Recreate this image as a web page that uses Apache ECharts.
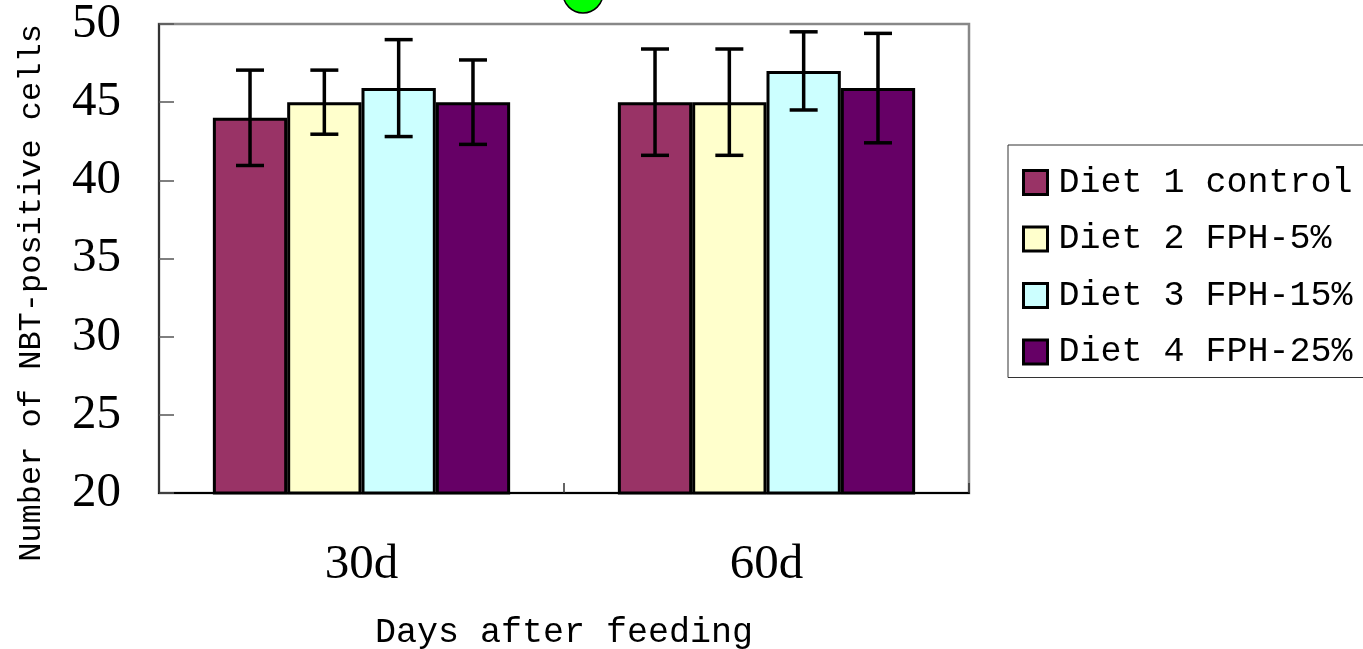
<!DOCTYPE html>
<html>
<head>
<meta charset="utf-8">
<script src="https://cdn.jsdelivr.net/npm/echarts@6/dist/echarts.min.js"></script>
<style>
html,body{margin:0;padding:0;background:#fff;}
#chart{width:1363px;height:649px;}
</style>
</head>
<body>
<div id="chart"></div>
<script>
const categories = ['30d', '60d'];
const seriesNames = ['Diet 1 control', 'Diet 2 FPH-5%', 'Diet 3 FPH-15%', 'Diet 4 FPH-25%'];
const diet1 = [44, 45];
const diet2 = [45, 45];
const diet3 = [45.9, 47];
const diet4 = [45, 45.9];
const err1 = [3.05, 3.4];
const err2 = [2.05, 3.4];
const err3 = [3.1, 2.5];
const err4 = [2.7, 3.5];
const yTicks = [20, 25, 30, 35, 40, 45, 50];

const values = [diet1, diet2, diet3, diet4];
const errors = [err1, err2, err3, err4];
const colors = ['#993366', '#FFFFCC', '#CCFFFF', '#660066'];
const GAP = 0.266;

const chart = echarts.init(document.getElementById('chart'));

const barSeries = values.map((vals, i) => ({
  name: seriesNames[i],
  type: 'bar',
  data: vals,
  barGap: '0%',
  barCategoryGap: (GAP * 100) + '%',
  itemStyle: { color: colors[i], borderColor: '#000', borderWidth: 3 },
  emphasis: { disabled: true },
  z: 2
}));

const errSeries = values.map((vals, i) => ({
  name: 'err' + i,
  type: 'custom',
  z: 5,
  silent: true,
  encode: { x: 0, y: 1 },
  data: vals.map((v, k) => [k, v, errors[i][k]]),
  renderItem: function (params, api) {
    const k = api.value(0), v = api.value(1), e = api.value(2);
    const band = api.size([1, 0])[0];
    const bw = band * (1 - GAP) / 4;
    const off = (i - 1.5) * bw;
    const hi = api.coord([k, v + e]);
    const lo = api.coord([k, v - e]);
    const x = hi[0] + off;
    const cap = 14;
    const st = { stroke: '#000', lineWidth: 3.5 };
    return {
      type: 'group',
      children: [
        { type: 'line', shape: { x1: x, y1: hi[1], x2: x, y2: lo[1] }, style: st },
        { type: 'line', shape: { x1: x - cap, y1: hi[1], x2: x + cap, y2: hi[1] }, style: st },
        { type: 'line', shape: { x1: x - cap, y1: lo[1], x2: x + cap, y2: lo[1] }, style: st }
      ]
    };
  }
}));

chart.setOption({
  animation: false,
  backgroundColor: '#fff',
  grid: {
    left: 159, right: 394, top: 24, bottom: 156,
    outerBoundsMode: 'none',
    containLabel: false,
    show: true, borderColor: '#888', borderWidth: 2.5, backgroundColor: 'transparent'
  },
  legend: {
    data: seriesNames,
    orient: 'vertical',
    left: 1008, top: 145,
    padding: [20, 20, 8, 14],
    itemWidth: 24, itemHeight: 24, itemGap: 21.5,
    icon: 'rect',
    itemStyle: { borderColor: '#000', borderWidth: 3 },
    borderColor: '#333', borderWidth: 1,
    selectedMode: false,
    textStyle: { fontFamily: 'Liberation Mono', fontSize: 35, color: '#000', padding: [0, 0, 0, 6] }
  },
  xAxis: {
    type: 'category',
    data: categories,
    axisLine: { show: true, lineStyle: { color: '#000', width: 2 } },
    axisTick: { show: true, inside: true, length: 10, lineStyle: { color: '#333', width: 1.5 } },
    axisLabel: { fontFamily: 'Liberation Serif', fontSize: 49, color: '#000', margin: 48 },
    name: 'Days after feeding',
    nameLocation: 'middle',
    nameGap: 122,
    nameTextStyle: { fontFamily: 'Liberation Mono', fontSize: 35, color: '#000' }
  },
  yAxis: {
    type: 'value',
    min: yTicks[0], max: yTicks[yTicks.length - 1], interval: 5,
    axisLine: { show: true, lineStyle: { color: '#333', width: 2 } },
    axisTick: { show: true, inside: true, length: 15, lineStyle: { color: '#555', width: 1.5 } },
    splitLine: { show: false },
    axisLabel: { fontFamily: 'Liberation Serif', fontSize: 49, color: '#000', margin: 38, padding: [8, 0, 0, 0] }
  },
  graphic: [
    {
      type: 'text',
      x: 32, y: 293,
      rotation: Math.PI / 2,
      style: {
        text: 'Number of NBT-positive cells',
        fontFamily: 'Liberation Mono', fontSize: 32, fill: '#000',
        align: 'center', verticalAlign: 'middle'
      }
    },
    {
      type: 'circle',
      shape: { cx: 583, cy: -7, r: 20 },
      style: { fill: '#00ff00', stroke: '#000', lineWidth: 1.5 }
    }
  ],
  series: barSeries.concat(errSeries)
});
</script>
</body>
</html>
